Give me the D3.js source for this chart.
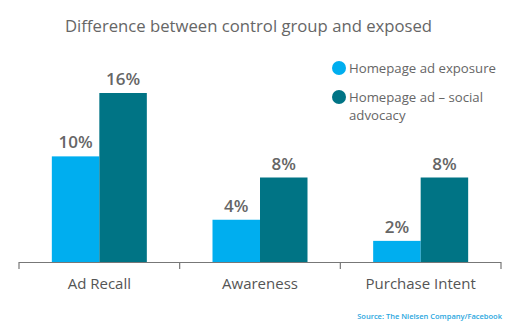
<!DOCTYPE html>
<html><head><meta charset="utf-8">
<script src="https://cdn.jsdelivr.net/npm/d3@7"></script>
<style>body{margin:0;background:#fff}svg{display:block}</style>
</head><body>
<svg id="c" width="524" height="336"></svg>
<script>
const categories = ["Ad Recall", "Awareness", "Purchase Intent"];
const seriesNames = ["Homepage ad exposure", "Homepage ad – social advocacy"];
const exposure = [10, 4, 2];
const advocacy = [16, 8, 8];
const valueLabels = [["10%", "4%", "2%"], ["16%", "8%", "8%"]];
const title = "Difference between control group and exposed";
const source = "Source: The Nielsen Company/Facebook";

const colors = ["#00aeef", "#007485"];
const font = "'Open Sans', 'Noto Sans', sans-serif";
const svg = d3.select("#c");
const baseY = 262;

const x = d3.scaleBand().domain(categories).range([19, 501]);
const inner = d3.scaleBand().domain([0, 1]).range([0, 95]);
const y = d3.scaleLinear().domain([0, 16]).range([baseY, 93]);

svg.append("text").attr("x", 65).attr("y", 32).attr("font-family", font)
  .attr("font-size", 16.7).attr("fill", "#666").text(title);

const series = [exposure, advocacy];
series.forEach((vals, si) => {
  vals.forEach((v, ci) => {
    const cx = x(categories[ci]) + (x.bandwidth() - 95) / 2 + inner(si);
    svg.append("rect").attr("x", cx).attr("y", y(v))
      .attr("width", inner.bandwidth()).attr("height", baseY - y(v))
      .attr("fill", colors[si]);
    svg.append("text").attr("x", cx + inner.bandwidth() / 2).attr("y", y(v) - 8)
      .attr("text-anchor", "middle").attr("font-family", font)
      .attr("font-size", 17).attr("font-weight", 600).attr("fill", "#666")
      .text(valueLabels[si][ci]);
  });
});

const axis = d3.axisBottom(x).tickSize(0).tickPadding(0);
svg.append("line").attr("x1", 19).attr("x2", 501).attr("y1", baseY + 0.5).attr("y2", baseY + 0.5)
  .attr("stroke", "#777").attr("stroke-width", 1.2);
const edges = categories.map(c => x(c)).concat([x.range()[1]]);
edges.forEach(e => {
  svg.append("line").attr("x1", e).attr("x2", e).attr("y1", baseY).attr("y2", baseY + 7)
    .attr("stroke", "#777").attr("stroke-width", 1.2);
});
const ag = svg.append("g").attr("transform", `translate(0,${baseY})`).call(axis);
ag.select(".domain").remove();
ag.selectAll("text").attr("font-family", font).attr("font-size", 15)
  .attr("fill", "#555").attr("dy", 0).attr("y", 27);

// legend
const leg = [{y: 68, lines: ["Homepage ad exposure"]}, {y: 97, lines: ["Homepage ad – social", "advocacy"]}];
leg.forEach((l, i) => {
  svg.append("circle").attr("cx", 339).attr("cy", l.y).attr("r", 7).attr("fill", colors[i]);
  const t = svg.append("text").attr("x", 349).attr("y", l.y + 5).attr("font-family", font)
    .attr("font-size", 13.2).attr("fill", "#666");
  l.lines.forEach((s, j) => {
    t.append("tspan").attr("x", 349).attr("dy", j === 0 ? 0 : 18.2).text(s);
  });
});

svg.append("text").attr("x", 502).attr("y", 319).attr("text-anchor", "end")
  .attr("font-family", font).attr("font-size", 7.5).attr("font-weight", 600)
  .attr("fill", "#2aa6de").text(source);
</script>
</body></html>
